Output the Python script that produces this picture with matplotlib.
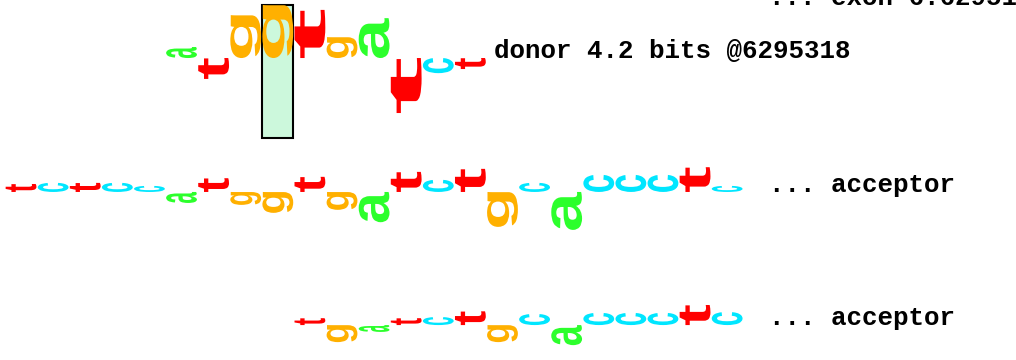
import matplotlib
matplotlib.use("Agg")
import matplotlib.pyplot as plt
from matplotlib.textpath import TextPath
from matplotlib.font_manager import FontProperties
from matplotlib.patches import PathPatch, Rectangle
from matplotlib.transforms import Affine2D

# sequence shown under the walkers (one base per position)
SEQ = "tctccatggtgatctgcaccctc"

# walker rows: first position, bits per base, label
DONOR_START = 5
DONOR_BITS = [0.40, -0.76, 1.56, 1.93, 1.75, 0.76, 1.45, -2.00, -0.55, -0.40]
DONOR_LABEL = "donor 4.2 bits @6295318"

ACC1_START = 0
ACC1_BITS = [0.29, 0.33, 0.33, 0.33, 0.22, -0.40, 0.50, -0.47, -0.76, 0.55,
             -0.65, -1.10, 0.73, 0.44, 0.84, -1.27, 0.33, -1.38, 0.62, 0.62,
             0.62, 0.90, 0.22]
ACC1_LABEL = "... acceptor"

ACC2_START = 9
ACC2_BITS = [0.25, -0.62, -0.25, 0.25, 0.29, 0.50, -0.62, 0.40, -0.73, 0.44,
             0.44, 0.44, 0.73, 0.47]
ACC2_LABEL = "... acceptor"

EXON_LABEL = "... exon 6:6295196"
HIGHLIGHT_POS = 8

COLORS = {"a": "#2cff2c", "c": "#00e6ff", "g": "#ffb000", "t": "#ff0000"}

# layout (positions along x, bits along y)
BASE_DONOR = 10.98
BASE_ACC1 = 6.11
BASE_ACC2 = 1.27
LABEL_X_DONOR = 15.25
LABEL_X_ACC = 23.8

FP = FontProperties(family="Liberation Sans", weight="bold")
MONO = dict(family="Liberation Mono", weight="bold", fontsize=18.6)


def letter(ax, ch, x0, y0, w, h):
    tp = TextPath((0, 0), ch, size=1, prop=FP)
    tp = Affine2D().rotate_deg(90).transform_path(tp)
    ext = tp.get_extents()
    tr = (Affine2D().translate(-ext.x0, -ext.y0)
          .scale(w / ext.width, h / ext.height)
          .translate(x0, y0))
    ax.add_patch(PathPatch(tr.transform_path(tp), facecolor=COLORS[ch],
                           edgecolor="none", zorder=3))


def walker(ax, start, bits, base):
    for k, b in enumerate(bits):
        i = start + k
        y0 = base if b > 0 else base + b
        letter(ax, SEQ[i], i + 0.02, y0, 0.96, abs(b))


fig = plt.figure(figsize=(10.16, 3.6), dpi=100)
ax = fig.add_axes([0, 0, 1, 1])
ax.set_xlim(-0.156, 31.5)
ax.set_ylim(0, 13.09)
ax.axis("off")

ax.add_patch(Rectangle((HIGHLIGHT_POS, BASE_DONOR - 2.9), 0.97, 2.9 + 1.93,
                       facecolor="#ccf8dc", edgecolor="black", lw=1.5, zorder=1))

walker(ax, DONOR_START, DONOR_BITS, BASE_DONOR)
walker(ax, ACC1_START, ACC1_BITS, BASE_ACC1)
walker(ax, ACC2_START, ACC2_BITS, BASE_ACC2)

ax.text(LABEL_X_DONOR, BASE_DONOR, DONOR_LABEL, va="baseline", **MONO)
ax.text(LABEL_X_ACC, BASE_ACC1, ACC1_LABEL, va="baseline", **MONO)
ax.text(LABEL_X_ACC, BASE_ACC2, ACC2_LABEL, va="baseline", **MONO)
ax.text(LABEL_X_ACC, BASE_DONOR + 1.93, EXON_LABEL, va="baseline", **MONO)

fig.savefig("out.png", dpi=100)
